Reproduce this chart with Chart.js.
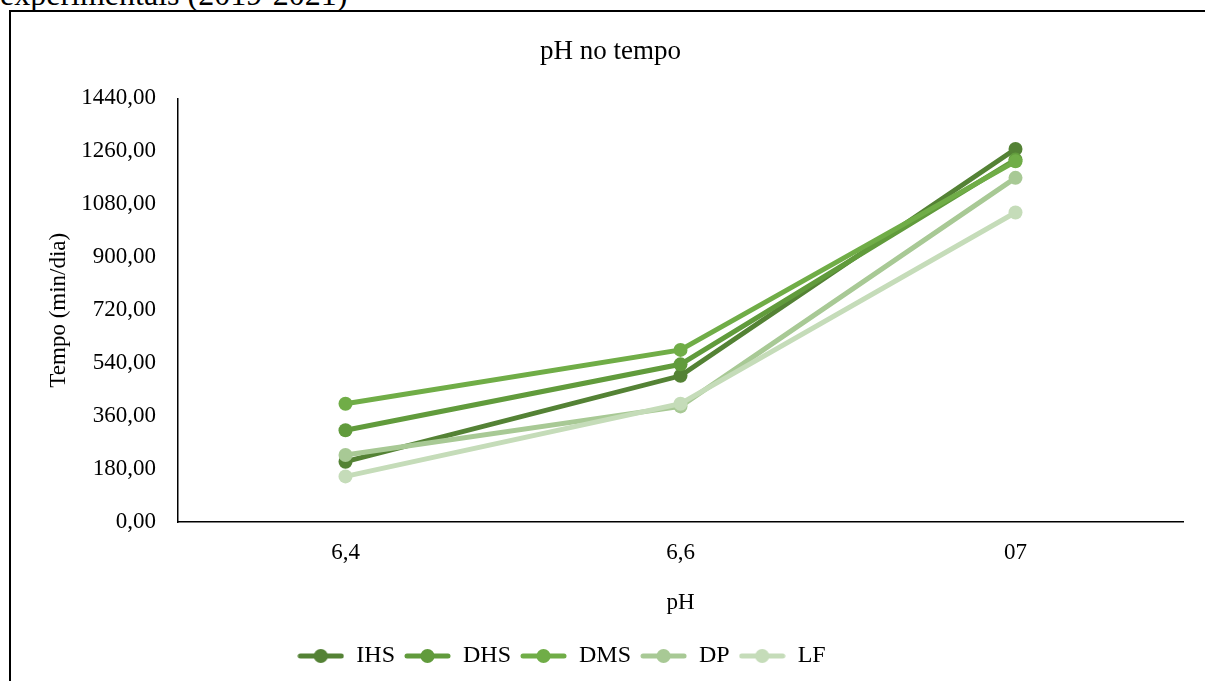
<!DOCTYPE html>
<html>
<head>
<meta charset="utf-8">
<script src="https://cdn.jsdelivr.net/npm/chart.js@4/dist/chart.umd.min.js"></script>
<style>
  body { margin: 0; background: #fff; width: 1205px; height: 681px; overflow: hidden; position: relative; font-family: "Liberation Serif", serif; }
  #cap { position: absolute; left: 0; top: -22px; font-size: 32px; line-height: 32px; white-space: nowrap; color: #000; }
  #moldura { position: absolute; left: 9px; top: 10px; width: 1300px; height: 800px; border: 2px solid #000; }
  #wrap { position: absolute; left: 0; top: 0; width: 1205px; height: 681px; }
</style>
</head>
<body>
<div id="cap">experimentais (2019-2021)</div>
<div id="moldura"></div>
<div id="wrap"><canvas id="grafico"></canvas></div>
<script>
// dados
const categorias = ['6,4', '6,6', '07'];
const series = ['IHS', 'DHS', 'DMS', 'DP', 'LF'];
const valIHS = [205, 497, 1268];
const valDHS = [312, 536, 1232];
const valDMS = [402, 585, 1226];
const valDP = [228, 393, 1170];
const valLF = [155, 402, 1052];
const cores = ['#548235', '#619b3c', '#70ad47', '#a8c995', '#c5dcb9'];
const yTicks = [0, 180, 360, 540, 720, 900, 1080, 1260, 1440];

const valores = [valIHS, valDHS, valDMS, valDP, valLF];
const fonte = "'Liberation Serif', 'Times New Roman', serif";

// icone da legenda: linha com marcador
const iconeLegenda = (cor) => {
    const c = document.createElement('canvas');
    c.width = 47; c.height = 16;
    const ctx = c.getContext('2d');
    ctx.strokeStyle = cor; ctx.lineWidth = 5; ctx.lineCap = 'round';
    ctx.beginPath(); ctx.moveTo(3, 8); ctx.lineTo(44, 8); ctx.stroke();
    ctx.fillStyle = cor;
    ctx.beginPath(); ctx.arc(23.5, 8, 7, 0, Math.PI * 2); ctx.fill();
    return c;
};

// legenda do Excel fica um pouco a esquerda do centro
const deslocaLegenda = {
    id: 'deslocaLegenda',
    afterLayout(chart) {
        const lg = chart.legend;
        if (lg) { lg.left -= 49; lg.right -= 49; }
    }
};

const datasets = series.map((nome, i) => ({
    label: nome,
    data: valores[i],
    borderColor: cores[i],
    backgroundColor: cores[i],
    borderWidth: 5,
    pointRadius: 7,
    pointBorderWidth: 0,
    pointBackgroundColor: cores[i],
    tension: 0,
    order: series.length - i   // ultimas series por cima, como no Excel
}));

new Chart(document.getElementById('grafico'), {
    type: 'line',
    data: { labels: categorias, datasets },
    plugins: [deslocaLegenda],
    options: {
        responsive: true, maintainAspectRatio: false, animation: false,
        layout: { padding: { left: 38, right: 22, top: 0, bottom: 3 } },
        plugins: {
            title: {
                display: true, text: 'pH no tempo', color: '#000',
                font: { family: fonte, size: 27, weight: 'normal' },
                padding: { top: 36, bottom: 30 }
            },
            legend: {
                position: 'bottom',
                labels: {
                    color: '#000', usePointStyle: true, pointStyleWidth: 47, padding: 9,
                    font: { family: fonte, size: 24 },
                    generateLabels: (chart) => chart.data.datasets.map((ds, i) => ({
                        text: ds.label, pointStyle: iconeLegenda(cores[i]),
                        fillStyle: cores[i], strokeStyle: cores[i], lineWidth: 0,
                        fontColor: '#000', datasetIndex: i, hidden: false
                    }))
                }
            },
            tooltip: { enabled: false }
        },
        scales: {
            x: {
                offset: true,
                grid: { display: false, drawTicks: false },
                border: { display: true, color: '#000', width: 1.5 },
                ticks: { color: '#000', font: { family: fonte, size: 23 }, padding: 17 },
                title: { display: true, text: 'pH', color: '#000', font: { family: fonte, size: 23 }, padding: { top: 4, bottom: 18 } },
                afterFit: (s) => { s.height = 113; }
            },
            y: {
                min: 0, max: 1440,
                afterBuildTicks: (s) => { s.ticks = yTicks.map(v => ({ value: v })); },
                grid: { display: false, drawTicks: false },
                border: { display: true, color: '#000', width: 1.5 },
                ticks: {
                    color: '#000', font: { family: fonte, size: 23 }, padding: 22,
                    callback: (v) => Number(v).toFixed(2).replace('.', ',')
                },
                title: { display: true, text: 'Tempo (min/dia)', color: '#000', font: { family: fonte, size: 23 }, padding: { top: 7, bottom: 0 } },
                afterFit: (s) => { s.width = 140; }
            }
        }
    }
});
</script>
</body>
</html>
